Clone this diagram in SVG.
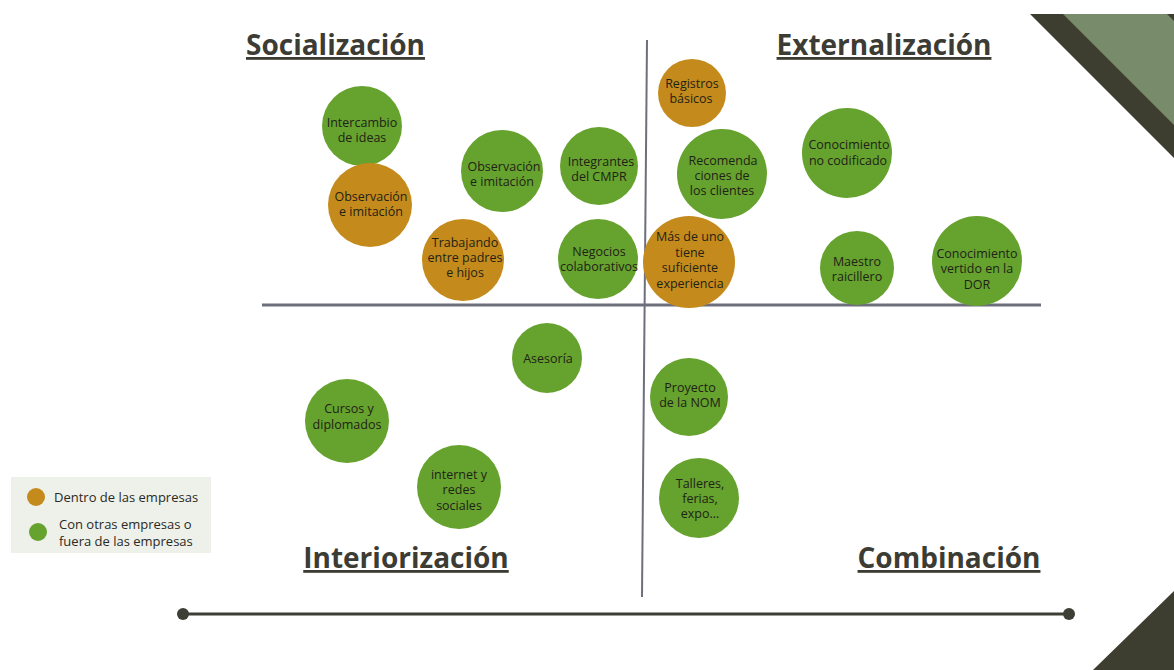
<svg xmlns="http://www.w3.org/2000/svg" width="1174" height="670" viewBox="0 0 1174 670">
<style>
.g{fill:#66a22e}
.o{fill:#c48b1c}
.t{font-family:"Open Sans","Noto Sans",sans-serif;font-size:12.5px;fill:#1f2216;text-anchor:middle}
.h{font-family:"Open Sans","Noto Sans",sans-serif;font-size:28px;font-weight:bold;fill:#3c3c34;text-decoration:underline}
.lg{font-family:"Open Sans","Noto Sans",sans-serif;font-size:13px;fill:#2a2a24}
</style>
<rect width="1174" height="670" fill="#ffffff"/>
<g id="decor">
<polygon points="1030,14 1174,14 1174,158" fill="#3d3e30"/>
<polygon points="1063,14 1167,14 1174,21 1174,125" fill="#788b6a"/>
<polygon points="1174,591 1174,670 1093,670" fill="#3d3e30"/>
</g>
<g id="axes">
<line x1="262" y1="305" x2="1041" y2="305" stroke="#6e6f7c" stroke-width="3"/>
<line x1="647" y1="40" x2="642" y2="597" stroke="#6e6f7c" stroke-width="2"/>
<line x1="183" y1="614" x2="1069" y2="614" stroke="#3d3e34" stroke-width="3"/>
<circle cx="183" cy="614" r="6" fill="#3d3e34"/>
<circle cx="1069" cy="614" r="6" fill="#3d3e34"/>
</g>
<g id="titles">
<text class="h" x="246" y="55">Socialización</text>
<text class="h" x="884" y="55" text-anchor="middle">Externalización</text>
<text class="h" x="406" y="568" text-anchor="middle">Interiorización</text>
<text class="h" x="949" y="568" text-anchor="middle">Combinación</text>
</g>
<g id="n1"><circle class="g" cx="362" cy="126" r="40"/><text class="t" x="362" y="127">Intercambio</text><text class="t" x="362" y="142">de ideas</text></g>
<g id="n2"><circle class="o" cx="370" cy="205" r="42"/><text class="t" x="371" y="201">Observación</text><text class="t" x="371" y="216">e imitación</text></g>
<g id="n3"><circle class="g" cx="502" cy="171" r="41"/><text class="t" x="504" y="171">Observación</text><text class="t" x="502" y="186">e imitación</text></g>
<g id="n4"><circle class="o" cx="463" cy="260" r="41"/><text class="t" x="465" y="247">Trabajando</text><text class="t" x="465" y="262">entre padres</text><text class="t" x="465" y="277">e hijos</text></g>
<g id="n5"><circle class="g" cx="599" cy="166" r="39"/><text class="t" x="601" y="166">Integrantes</text><text class="t" x="599" y="181">del CMPR</text></g>
<g id="n6"><circle class="g" cx="598" cy="259" r="40"/><text class="t" x="599" y="256">Negocios</text><text class="t" x="599" y="271">colaborativos</text></g>
<g id="n7"><circle class="o" cx="692" cy="93" r="34"/><text class="t" x="692" y="88">Registros</text><text class="t" x="691" y="103">básicos</text></g>
<g id="n8"><circle class="g" cx="722" cy="174" r="45"/><text class="t" x="723" y="165">Recomenda</text><text class="t" x="722" y="180">ciones de</text><text class="t" x="722" y="195">los clientes</text></g>
<g id="n9"><circle class="o" cx="689" cy="262" r="46"/><text class="t" x="690" y="241">Más de uno</text><text class="t" x="690" y="257">tiene</text><text class="t" x="690" y="272">suficiente</text><text class="t" x="690" y="288">experiencia</text></g>
<g id="n10"><circle class="g" cx="847" cy="153" r="45"/><text class="t" x="849" y="149">Conocimiento</text><text class="t" x="848" y="165">no codificado</text></g>
<g id="n11"><circle class="g" cx="857" cy="268" r="37"/><text class="t" x="857" y="266">Maestro</text><text class="t" x="857" y="281">raicillero</text></g>
<g id="n12"><circle class="g" cx="977" cy="261" r="45"/><text class="t" x="977" y="258">Conocimiento</text><text class="t" x="977" y="273">vertido en la</text><text class="t" x="977" y="289">DOR</text></g>
<g id="n13"><circle class="g" cx="547" cy="358" r="35"/><text class="t" x="548" y="363">Asesoría</text></g>
<g id="n14"><circle class="g" cx="347" cy="421" r="42"/><text class="t" x="349" y="413">Cursos y</text><text class="t" x="347" y="429">diplomados</text></g>
<g id="n15"><circle class="g" cx="459" cy="487" r="42"/><text class="t" x="459" y="479">internet y</text><text class="t" x="459" y="494">redes</text><text class="t" x="459" y="510">sociales</text></g>
<g id="n16"><circle class="g" cx="689" cy="397" r="39"/><text class="t" x="690" y="392">Proyecto</text><text class="t" x="690" y="407">de la NOM</text></g>
<g id="n17"><circle class="g" cx="699" cy="498" r="40"/><text class="t" x="700" y="488">Talleres,</text><text class="t" x="700" y="503">ferias,</text><text class="t" x="700" y="518">expo...</text></g>
<g id="legend">
<rect x="11" y="477" width="200" height="76" fill="#eef0ea"/>
<circle class="o" cx="36" cy="497" r="9"/>
<circle class="g" cx="38" cy="532" r="9"/>
<text class="lg" x="54" y="502">Dentro de las empresas</text>
<text class="lg" x="59" y="529">Con otras empresas o</text>
<text class="lg" x="59" y="546">fuera de las empresas</text>
</g>
</svg>
